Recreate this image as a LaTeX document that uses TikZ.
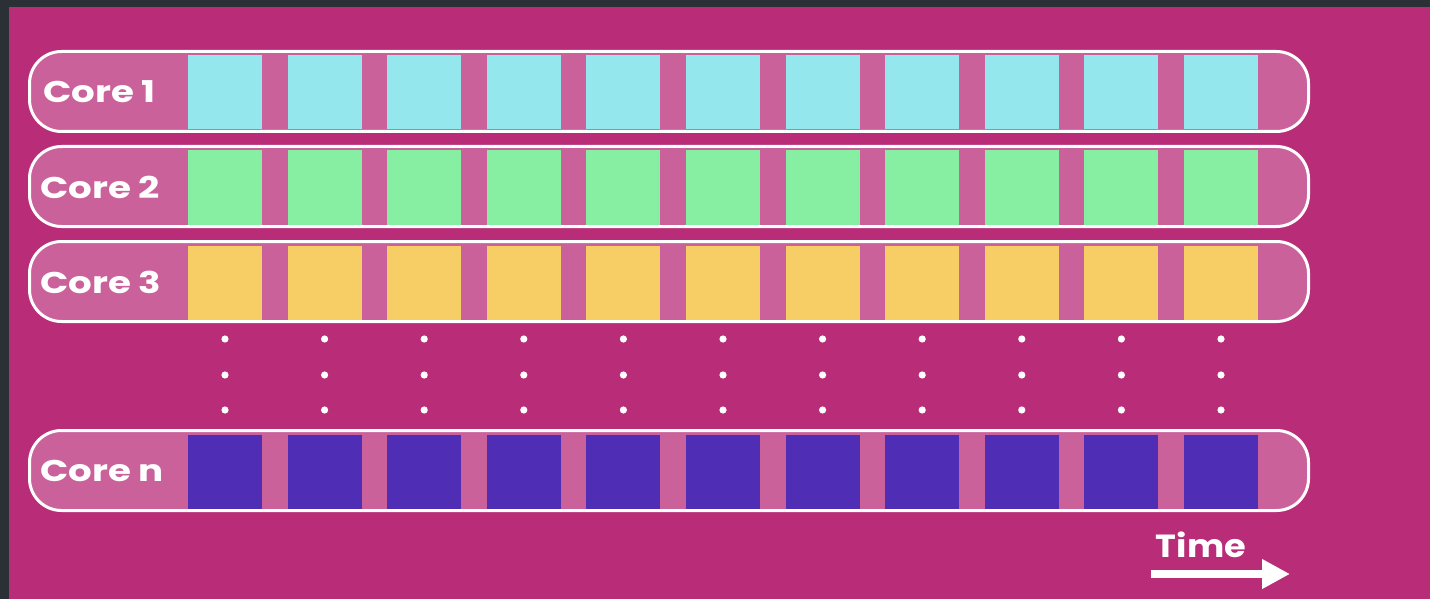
\documentclass[tikz,border=0pt]{standalone}
\usepackage{fontspec}
\setmainfont{Poppins}
\newfontfamily\corefont{Poppins}[FakeStretch=1.24]
\newfontfamily\timefont{Poppins}[FakeStretch=1.1]
\usetikzlibrary{arrows.meta}
\definecolor{framec}{HTML}{2A3035}
\definecolor{bgc}{HTML}{B92C78}
\definecolor{pillc}{HTML}{CA619B}
\definecolor{cyanc}{HTML}{94E7EC}
\definecolor{greenc}{HTML}{87EFA1}
\definecolor{yellowc}{HTML}{F6CE65}
\definecolor{purplec}{HTML}{502DB5}
\tikzset{
  pillbox/.style={draw=white, line width=3pt, fill=pillc, rounded corners=32pt,
    minimum width=1279pt, minimum height=80pt, inner sep=0pt, outer sep=0pt},
  slotbox/.style={minimum size=74pt, inner sep=0pt, outer sep=0pt},
  corelabel/.style={anchor=west, text=white, inner sep=0pt,
    font=\corefont\bfseries\fontsize{30}{30}\selectfont},
  timelabel/.style={text=white, inner sep=0pt,
    font=\timefont\bfseries\fontsize{32}{32}\selectfont},
  dotmark/.style={fill=white}
}
\begin{document}
\begin{tikzpicture}[x=1pt,y=-1pt]
\fill[framec] (0,0) rectangle (1430,599);
\fill[bgc] (9,7) rectangle (1430,599);
\useasboundingbox (0,0) rectangle (1430,599);
\foreach \nm/\tp/\col/\lab/\tx in {r1/51/cyanc/Core 1/43, r2/146/greenc/Core 2/40, r3/241/yellowc/Core 3/40, rn/430/purplec/Core n/40}{
  \node[pillbox] (\nm) at (669,\tp+40.5) {};
  \foreach \i in {0,...,10}{
    \node[slotbox, fill=\col] (\nm-s\i) at (225+99.6*\i,\tp+41.5) {};
  }
  \node[corelabel] (\nm-lab) at (\tx,\tp+41) {\lab};
}
\foreach \i in {0,...,10}{
  \foreach \yy in {339,375,410}{
    \fill[dotmark] (225+99.6*\i,\yy) circle (3.6pt);
  }
}
\node[timelabel] (time) at (1201,545) {Time};
\coordinate (ts) at (1151,574);
\coordinate (te) at (1290,574);
\draw[white, line width=8pt, -{Triangle[length=28pt,width=28pt]}] (ts) -- (te);
\end{tikzpicture}
\end{document}
